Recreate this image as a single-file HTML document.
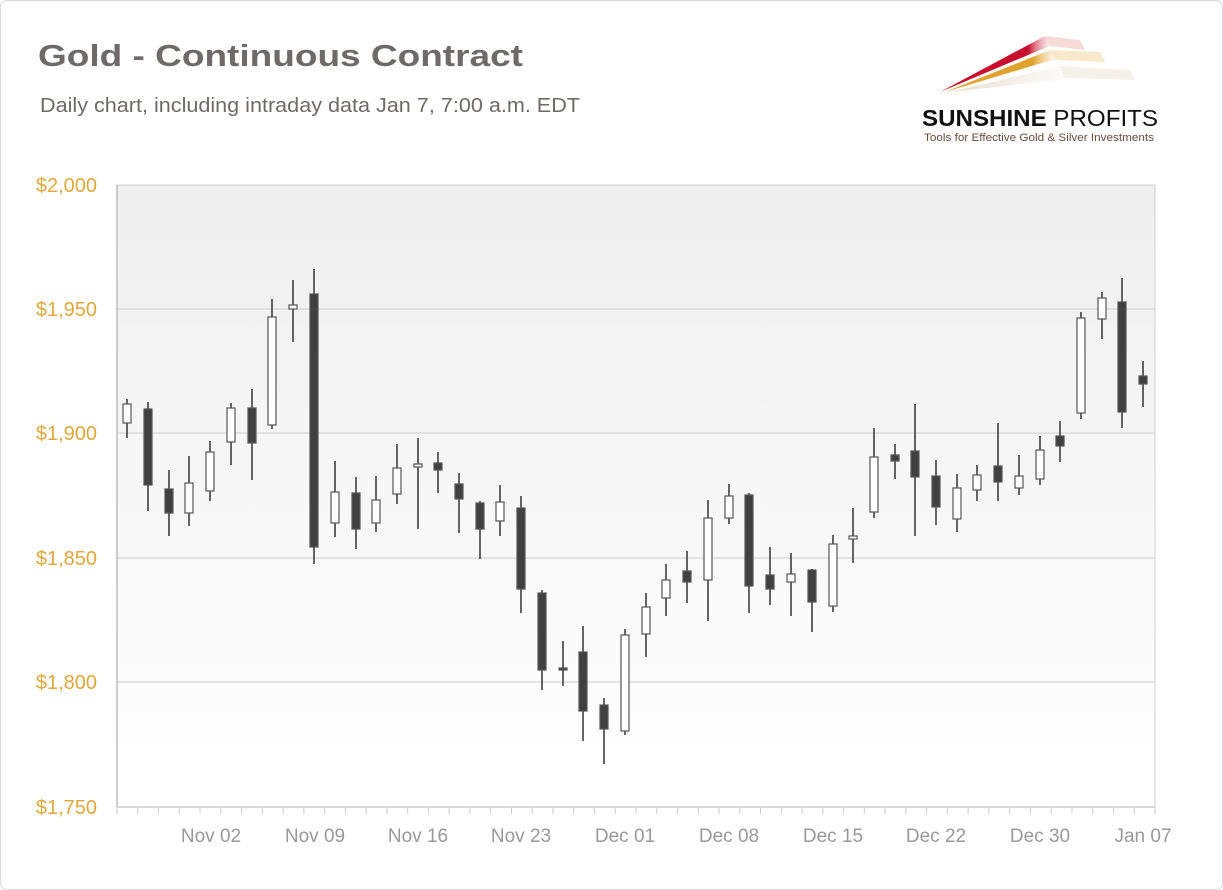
<!DOCTYPE html>
<html><head><meta charset="utf-8"><style>
html,body{margin:0;padding:0;background:#fff;}
svg{display:block;font-family:"Liberation Sans",sans-serif;}
</style></head><body>
<svg width="1223" height="890" viewBox="0 0 1223 890" xmlns="http://www.w3.org/2000/svg">
<defs>
<linearGradient id="bg" x1="0" y1="0" x2="0" y2="1"><stop offset="0" stop-color="#efefef"/><stop offset="1" stop-color="#ffffff"/></linearGradient>
<linearGradient id="fr" x1="0" y1="0" x2="1" y2="0"><stop offset="0" stop-color="#c8102e"/><stop offset="0.8" stop-color="#c8102e"/><stop offset="1" stop-color="#f3c0c0" stop-opacity="0.3"/></linearGradient>
<linearGradient id="fo" x1="0" y1="0" x2="1" y2="0"><stop offset="0" stop-color="#e0a22e"/><stop offset="0.8" stop-color="#e0a22e"/><stop offset="1" stop-color="#f5dfb0" stop-opacity="0.3"/></linearGradient>
<linearGradient id="fg" x1="0" y1="0" x2="1" y2="0"><stop offset="0" stop-color="#e4dcc8"/><stop offset="1" stop-color="#f3efe6" stop-opacity="0.3"/></linearGradient>
</defs>
<rect x="0.5" y="0.5" width="1222" height="889" rx="6" fill="#fff" stroke="#d8d8d8"/>
<text x="38" y="66" font-size="31" font-weight="bold" fill="#6e6a68" textLength="485" lengthAdjust="spacingAndGlyphs">Gold - Continuous Contract</text>
<text x="40" y="112" font-size="20" fill="#6e6a68" textLength="540" lengthAdjust="spacingAndGlyphs">Daily chart, including intraday data Jan 7, 7:00 a.m. EDT</text>
<!-- logo -->
<polygon points="940,92 1045,36 1050,46 1040,50" fill="url(#fr)"/>
<polygon points="1045,36 1080,40 1085,50 1050,46" fill="#f0b8b0" opacity="0.5"/>
<polygon points="945,92 1050,50 1055,60 1045,62" fill="url(#fo)"/>
<polygon points="1050,50 1100,52 1105,62 1055,60" fill="#f2d49a" opacity="0.5"/>
<polygon points="950,92 1060,66 1065,78 1060,80" fill="url(#fg)"/>
<polygon points="1060,66 1130,70 1135,80 1065,78" fill="#efe8da" opacity="0.6"/>
<text x="922" y="126" font-size="23" font-weight="bold" fill="#111" textLength="236" lengthAdjust="spacingAndGlyphs">SUNSHINE <tspan font-weight="normal">PROFITS</tspan></text>
<text x="924" y="141" font-size="11" fill="#6b4a3a" textLength="230" lengthAdjust="spacingAndGlyphs">Tools for Effective Gold &amp; Silver Investments</text>
<!-- plot -->
<rect x="117" y="185" width="1038" height="622" fill="url(#bg)" stroke="#cfcfcf"/>
<g stroke="#d6d6d6" stroke-width="1.3">
<line x1="117" y1="309" x2="1155" y2="309"/><line x1="117" y1="433" x2="1155" y2="433"/>
<line x1="117" y1="558" x2="1155" y2="558"/><line x1="117" y1="682" x2="1155" y2="682"/>
</g>
<line x1="117" y1="185" x2="117" y2="807" stroke="#bbb" stroke-width="1.5"/>
<line x1="117" y1="807" x2="1155" y2="807" stroke="#ccc" stroke-width="1.5"/>
<g id="ticks" stroke="#ccc" stroke-width="1"></g>
<g font-size="20" fill="#e0a83c" text-anchor="end">
<text x="97" y="192">$2,000</text><text x="97" y="316">$1,950</text><text x="97" y="440">$1,900</text>
<text x="97" y="565">$1,850</text><text x="97" y="689">$1,800</text><text x="97" y="814">$1,750</text>
</g>
<g font-size="19" fill="#999" text-anchor="middle">
<text x="211" y="842">Nov 02</text><text x="315" y="842">Nov 09</text><text x="418" y="842">Nov 16</text>
<text x="521" y="842">Nov 23</text><text x="625" y="842">Dec 01</text><text x="729" y="842">Dec 08</text>
<text x="833" y="842">Dec 15</text><text x="936" y="842">Dec 22</text><text x="1040" y="842">Dec 30</text>
<text x="1143" y="842">Jan 07</text>
</g>
<g id="candles"></g>
<script>
var d=[[127,399,404,423,438,0],[148,402,409,485,511,1],[169,470,489,513,536,1],[189,456,483,513,526,0],[210,441,452,491,501,0],[231,403,408,442,465,0],[252,389,408,443,480,1],[272,299,317,425,429,0],[293,280,305,309,342,0],[314,269,294,547,564,1],[335,461,492,523,537,0],[356,477,493,529,549,1],[376,476,500,523,532,0],[397,444,468,494,504,0],[418,438,464,467,529,0],[438,452,463,470,493,1],[459,473,484,499,533,1],[480,501,503,529,559,1],[500,485,502,521,536,0],[521,496,508,589,613,1],[542,590,593,670,690,1],[563,641,668,670,686,1],[583,626,652,711,741,1],[604,698,705,729,764,1],[625,629,635,731,735,0],[646,593,607,634,657,0],[666,564,580,598,616,0],[687,551,571,582,603,1],[708,500,518,580,621,0],[729,484,496,518,524,0],[749,493,495,586,613,1],[770,547,575,589,605,1],[791,553,574,582,616,0],[812,569,570,602,632,1],[833,535,544,606,612,0],[853,508,536,539,563,0],[874,428,457,512,518,0],[895,444,455,461,479,1],[915,404,451,477,536,1],[936,460,476,507,525,1],[957,474,488,519,532,0],[977,465,475,490,501,0],[998,423,466,482,501,1],[1019,455,476,488,495,0],[1040,436,450,479,485,0],[1060,421,436,446,462,1],[1081,312,318,413,419,0],[1102,292,298,319,339,0],[1122,278,302,412,428,1],[1143,361,376,384,407,1]];
var ns="http://www.w3.org/2000/svg",g=document.getElementById("candles"),t=document.getElementById("ticks");
function el(n,a,p){var e=document.createElementNS(ns,n);for(var k in a)e.setAttribute(k,a[k]);p.appendChild(e);}
for(var i=0;i<=50;i++){var x=117+i*20.76;el("line",{x1:x,y1:807,x2:x,y2:814},t);}
d.forEach(function(c){
el("line",{x1:c[0],y1:c[1],x2:c[0],y2:c[4],stroke:"#333","stroke-width":1.5},g);
el("rect",{x:c[0]-4,y:c[2],width:8,height:Math.max(c[3]-c[2],1),fill:c[5]?"#404040":"#fff",stroke:"#555","stroke-width":1.2},g);
});
</script>
</svg>
</body></html>
